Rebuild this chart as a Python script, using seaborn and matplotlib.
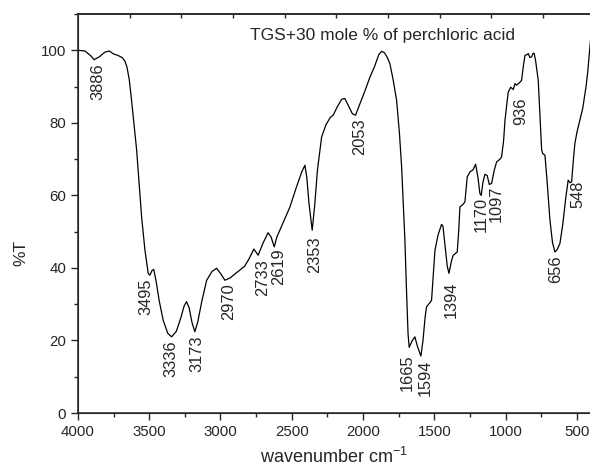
import seaborn as sns
from matplotlib import pyplot as plt
from matplotlib.ticker import MultipleLocator
import pandas as pd

# spectrum (wavenumber, %T)
wavenumber = [4000, 3950, 3910, 3886, 3850, 3810, 3780, 3750, 3720, 3690, 3670, 3656,
              3640, 3623, 3605, 3588, 3570, 3553, 3530, 3507, 3495, 3480, 3468, 3450,
              3430, 3402, 3370, 3343, 3310, 3280, 3255, 3238, 3220, 3200, 3180, 3160,
              3130, 3097, 3060, 3027, 3000, 2969, 2930, 2900, 2864, 2830, 2800, 2766,
              2736, 2700, 2666, 2645, 2623, 2605, 2584, 2550, 2513, 2470, 2430, 2408,
              2395, 2380, 2357, 2340, 2320, 2291, 2260, 2230, 2210, 2180, 2150, 2128,
              2100, 2075, 2053, 2020, 1990, 1952, 1920, 1890, 1870, 1850, 1830, 1812,
              1790, 1765, 1745, 1730, 1715, 1707, 1695, 1685, 1677, 1655, 1637, 1620,
              1595, 1580, 1565, 1555, 1530, 1520, 1505, 1496, 1475, 1450, 1440, 1425,
              1410, 1398, 1380, 1368, 1340, 1330, 1321, 1300, 1286, 1270, 1250, 1230,
              1211, 1195, 1181, 1172, 1160, 1146, 1130, 1115, 1099, 1080, 1064, 1040,
              1029, 1015, 1005, 990, 982, 965, 947, 935, 924, 905, 889, 875,
              865, 850, 842, 830, 818, 808, 800, 790, 772, 760, 748, 740,
              725, 710, 690, 672, 655, 640, 620, 600, 578, 562, 550, 538,
              525, 515, 500, 480, 460, 437, 425, 414, 405]
transmittance = [100.0, 99.8, 98.5, 97.4, 98.2, 99.5, 99.8, 99.0, 98.6, 98.0, 97.0, 95.4,
                 92.0, 86.0, 79.0, 72.5, 63.0, 54.0, 45.0, 38.5, 38.0, 39.3, 39.6, 36.0,
                 31.0, 25.6, 22.0, 21.0, 22.5, 26.0, 29.5, 30.7, 29.0, 25.0, 22.4, 25.0,
                 31.0, 36.6, 39.0, 39.9, 38.5, 36.6, 37.3, 38.3, 39.4, 40.5, 42.5, 45.2,
                 43.5, 47.0, 49.7, 48.5, 45.8, 48.5, 50.4, 53.5, 56.8, 62.0, 66.5, 68.3,
                 65.0, 58.0, 50.4, 57.0, 67.0, 76.1, 79.5, 81.5, 82.1, 84.5, 86.5, 86.7,
                 84.5, 82.5, 82.1, 85.5, 88.5, 92.6, 95.5, 98.8, 99.7, 99.3, 98.0, 96.3,
                 92.0, 86.2, 77.0, 67.9, 55.0, 47.7, 33.0, 22.0, 18.1, 20.0, 21.0, 18.5,
                 15.7, 20.0, 26.5, 29.3, 30.5, 31.1, 40.0, 44.9, 49.0, 52.0, 51.5, 46.0,
                 40.5, 38.5, 42.0, 43.5, 44.4, 50.0, 56.8, 57.5, 58.2, 65.1, 66.5, 67.0,
                 68.6, 65.0, 60.5, 60.0, 63.5, 65.8, 65.5, 63.0, 63.3, 67.0, 69.2, 70.0,
                 70.6, 75.0, 80.7, 86.0, 88.5, 89.8, 89.2, 90.8, 90.4, 91.0, 91.7, 96.0,
                 98.6, 98.8, 99.1, 98.0, 98.2, 99.2, 99.1, 97.0, 91.7, 82.0, 72.5, 71.5,
                 71.1, 64.0, 53.2, 47.0, 44.4, 45.0, 46.7, 52.0, 59.6, 64.2, 63.5, 63.7,
                 70.0, 74.3, 77.5, 80.7, 84.0, 89.9, 94.0, 99.1, 103.0]

# peak labels: text, x position, top of the text (in %T)
peak_labels = ['3886', '3495', '3336', '3173', '2970', '2733', '2619', '2353', '2053',
               '1665', '1594', '1394', '1170', '1097', '936', '656', '548']
peak_x = [3860, 3523, 3349, 3165, 2942, 2703, 2590, 2343, 2022,
          1693, 1567, 1380, 1174, 1064, 893, 651, 497]
peak_y = [96.4, 37.2, 20.0, 21.5, 35.8, 42.3, 45.4, 48.6, 81.2,
          16.3, 14.6, 36.2, 59.6, 62.8, 86.9, 43.5, 64.2]

sns.set_style("ticks")
plt.rcParams['font.family'] = ['Liberation Sans', 'DejaVu Sans']
plt.rcParams['mathtext.fontset'] = 'custom'
plt.rcParams['mathtext.rm'] = 'Liberation Sans'

df = pd.DataFrame({'wavenumber': wavenumber, 'T': transmittance})

fig = plt.figure(figsize=(5.9, 4.75), dpi=100)
ax = fig.add_axes([0.132, 0.1305, 0.868, 0.84])
sns.lineplot(data=df, x='wavenumber', y='T', color='black', lw=0.9, sort=False,
             estimator=None, ax=ax)

for t, x, y in zip(peak_labels, peak_x, peak_y):
    ax.text(x, y, t, rotation=90, ha='center', va='top', fontsize=11.8)

ax.text(2795, 104, 'TGS+30 mole % of perchloric acid', fontsize=12.5, va='center')

ax.set_xlim(4000, 409)
ax.set_ylim(0, 110)
ax.set_xticks([4000, 3500, 3000, 2500, 2000, 1500, 1000, 500])
ax.set_yticks([0, 20, 40, 60, 80, 100])
ax.xaxis.set_minor_locator(MultipleLocator(250))
ax.yaxis.set_minor_locator(MultipleLocator(10))
ax.tick_params(which='major', direction='out', length=5, width=1, labelsize=10.8)
ax.tick_params(which='minor', direction='out', length=3, width=1)
ax.spines['right'].set_visible(False)
for s in ['left', 'bottom', 'top']:
    ax.spines[s].set_linewidth(1.1)

ax.set_xlabel('wavenumber cm$^{\\mathrm{-1}}$', fontsize=13, labelpad=6)
ax.set_ylabel('%T', fontsize=12.5)
ax.yaxis.set_label_coords(-0.097, 0.40)

# top axis ticks (unlabelled, pointing inward)
ax2 = ax.twiny()
ax2.set_xlim(0, 9.91)
ax2.set_xticks(range(1, 10))
ax2.tick_params(axis='x', direction='in', length=3, width=1, labeltop=False)
ax2.spines['right'].set_visible(False)
ax2.spines['top'].set_linewidth(1.1)

plt.savefig('out.png', dpi=100)
